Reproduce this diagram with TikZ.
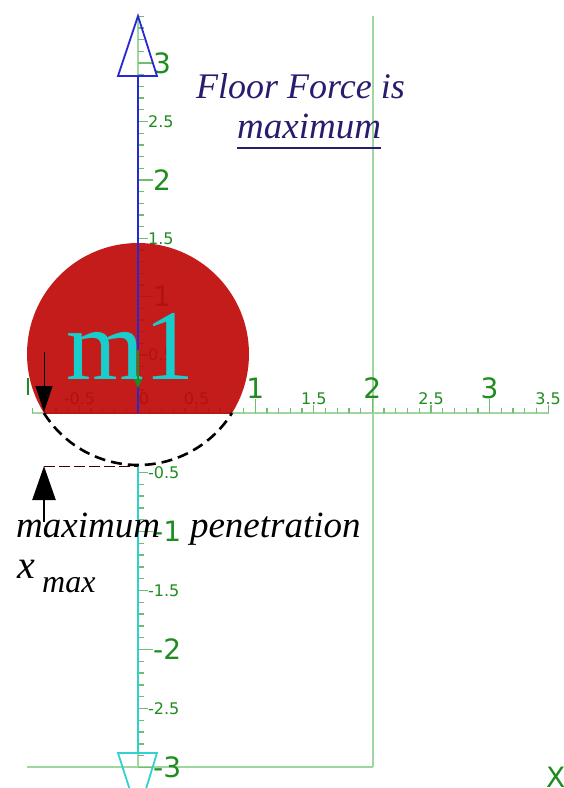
\documentclass[tikz,border=0pt]{standalone}
\usepackage{fontspec}
\setmainfont{Liberation Serif}
\newfontfamily\lblfont{DejaVu Sans}
\usetikzlibrary{arrows.meta}
\definecolor{axgreen}{RGB}{160,214,160}
\definecolor{tickgreen}{RGB}{110,190,110}
\definecolor{lblgreen}{RGB}{30,140,30}
\definecolor{axblue}{RGB}{40,40,210}
\definecolor{axcyan}{RGB}{50,208,208}
\definecolor{ballred}{RGB}{191,8,8}
\definecolor{mcyan}{RGB}{25,205,205}
\definecolor{navy}{RGB}{40,28,110}
\begin{document}
\begin{tikzpicture}[x=1pt,y=-1pt,
  biglbl/.style={font=\lblfont\fontsize{28}{28}\selectfont, text=lblgreen, inner sep=0pt},
  smalllbl/.style={font=\lblfont\fontsize{16}{16}\selectfont, text=lblgreen, inner sep=0pt},
  axline/.style={draw=axgreen, line width=2pt},
  tickline/.style={draw=tickgreen, line width=1.3pt},
  itxt/.style={font=\itshape\fontsize{37}{37}\selectfont, inner sep=0pt, anchor=base west}]
\useasboundingbox (0,0) rectangle (564,788);
% frame lines
\draw[axline] (373,16) -- (373,767);
\draw[axline] (27,767) -- (373,767);
\draw[axline] (32,413) -- (549,413);
\draw[axline] (138,16) -- (138,413);
\draw[axline] (138,466) -- (138,767);
% vertical ticks upper
\foreach \i [evaluate=\i as \yy using 413.5-11.68*\i] in {1,...,34}
  \draw[tickline] (138,\yy) -- (144,\yy);
\foreach \i [evaluate=\i as \yy using 413.5-11.68*\i] in {5,15,25}
  \draw[tickline] (138,\yy) -- (148,\yy);
\foreach \i [evaluate=\i as \yy using 413.5-11.68*\i] in {10,20,30}
  \draw[tickline] (138,\yy) -- (153,\yy);
% vertical ticks lower
\foreach \i [evaluate=\i as \yy using 413.5+11.8*\i] in {5,...,30}
  \draw[tickline] (138,\yy) -- (144,\yy);
\foreach \i [evaluate=\i as \yy using 413.5+11.8*\i] in {5,15,25}
  \draw[tickline] (138,\yy) -- (148,\yy);
\foreach \i [evaluate=\i as \yy using 413.5+11.8*\i] in {10,20,30}
  \draw[tickline] (138,\yy) -- (153,\yy);
% horizontal ticks
\foreach \i [evaluate=\i as \xx using 138+11.72*\i] in {-9,...,35}
  \draw[tickline] (\xx,413) -- (\xx,408);
\foreach \i [evaluate=\i as \xx using 138+11.72*\i] in {-5,5,15,25,35}
  \draw[tickline] (\xx,413) -- (\xx,405);
\foreach \i [evaluate=\i as \xx using 138+11.72*\i] in {10,20,30}
  \draw[tickline] (\xx,413) -- (\xx,399);
\draw[lblgreen, line width=1.8pt] (28,378) -- (28,395);
% vertical labels
\node[smalllbl, anchor=west] (va) at (148,355.1) {0.5};
\node[biglbl, anchor=west] (vb) at (153,296.7) {1};
\node[smalllbl, anchor=west] (vc) at (148,238.3) {1.5};
\node[biglbl, anchor=west] (vd) at (153,180) {2};
\node[smalllbl, anchor=west] (ve) at (148,121.5) {2.5};
\node[biglbl, anchor=west] (vf) at (153,63.1) {3};
\node[smalllbl, anchor=west] (vg) at (148,472.5) {-0.5};
\node[biglbl, anchor=west] (vh) at (153,531.5) {-1};
\node[smalllbl, anchor=west] (vi) at (148,590.5) {-1.5};
\node[biglbl, anchor=west] (vj) at (153,649.5) {-2};
\node[smalllbl, anchor=west] (vk) at (148,708.5) {-2.5};
\node[biglbl, anchor=west] (vl) at (153,767.5) {-3};
% horizontal labels
\node[smalllbl, anchor=south] (ha) at (79.4,405) {-0.5};
\node[smalllbl, anchor=south] (hb) at (144,405) {0};
\node[smalllbl, anchor=south] (hc) at (196.6,405) {0.5};
\node[biglbl, anchor=south] (hd) at (255.2,399) {1};
\node[smalllbl, anchor=south] (he) at (313.8,405) {1.5};
\node[biglbl, anchor=south] (hf) at (372.4,399) {2};
\node[smalllbl, anchor=south] (hg) at (431,405) {2.5};
\node[biglbl, anchor=south] (hh) at (489.6,399) {3};
\node[smalllbl, anchor=south] (hi) at (548.2,405) {3.5};
\node[biglbl, anchor=base west] (xl) at (546,787) {X};
% ball
\begin{scope}
\clip (0,0) rectangle (564,413);
\fill[ballred, opacity=0.92] (138,354) circle[radius=111pt];
\end{scope}
\node[anchor=base west, inner sep=0pt, font=\fontsize{100}{100}\selectfont, text=mcyan] (m1) at (66,379) {m1};
% vertical axis arrows
\draw[axblue, line width=2.2pt] (138,76) -- (138,413);
\draw[axblue, line width=1.8pt] (138,16) -- (157,76) -- (118,76) -- cycle;
\draw[axcyan, line width=2.2pt] (138,466) -- (138,753);
\draw[axcyan, line width=1.8pt] (118,753) -- (157,753) -- (138,815) -- cycle;
\draw[lblgreen, line width=1.8pt, -{Triangle[length=9pt,width=8pt]}] (138,350) -- (138,388);
% penetration
\draw[black, line width=2.6pt, dash pattern=on 11pt off 6pt] (43.9,413) arc[start angle=212.1, end angle=327.9, radius=111pt];
\draw[black!75!red, line width=1pt, dash pattern=on 11pt off 4pt] (44,466) -- (138,466);
\draw[black, line width=1pt, -{Triangle[length=26pt,width=17pt]}] (44,352) -- (44,412);
\draw[black, line width=2.5pt, -{Triangle[length=34pt,width=23pt]}] (44,522) -- (44,466);
% texts
\node[itxt, text=navy, font=\itshape\fontsize{36}{36}\selectfont] (ff) at (196,98) {Floor Force is};
\node[itxt, text=navy] (mx) at (237,138) {maximum};
\draw[navy, line width=2pt] ([yshift=-10pt]mx.base west) -- ([yshift=-10pt]mx.base east);
\node[itxt] (mp) at (16,537) {maximum\hspace{30pt}penetration};
\node[itxt, font=\itshape\fontsize{40}{40}\selectfont] (xx) at (17,578) {x};
\node[itxt, font=\itshape\fontsize{32}{32}\selectfont] (xs) at (42,592) {max};
\end{tikzpicture}
\end{document}
